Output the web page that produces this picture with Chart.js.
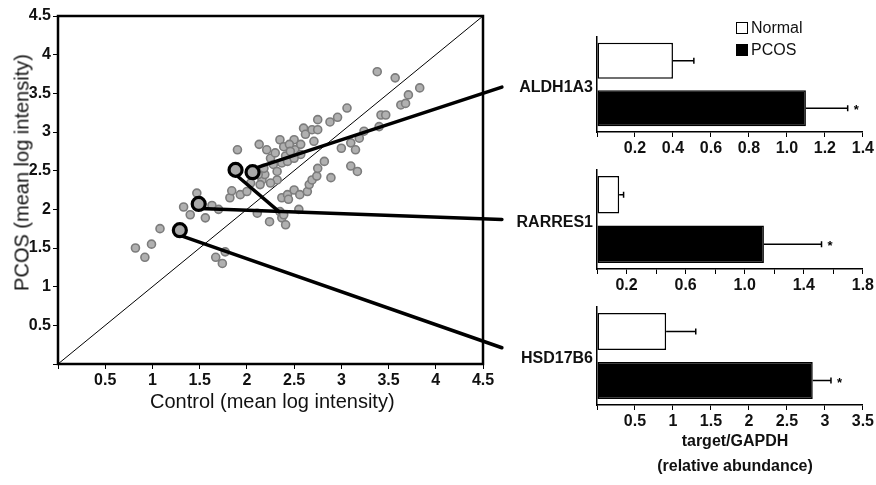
<!DOCTYPE html>
<html lang="en">
<head>
<meta charset="UTF-8" />
<title>PCOS vs Control expression</title>
<script src="https://cdn.jsdelivr.net/npm/chart.js"></script>
<style>
  body { margin: 0; background: #fff; font-family: Arial, "Liberation Sans", sans-serif; }
  #wrap { position: relative; width: 876px; height: 485px; overflow: hidden; background: #fff; }
  canvas { position: absolute; }
  .gene { position: absolute; width: 100px; text-align: right; font-weight: bold; font-size: 16px; color: #111; line-height: 18px; }
  .title { position: absolute; font-size: 20px; color: #111; white-space: nowrap; }
  .legend { position: absolute; left: 736px; font-size: 16px; color: #111; line-height: 18px; }
  .legend span.box { display: inline-block; width: 10px; height: 10px; border: 1px solid #000; margin-right: 3px; vertical-align: -1px; }
  .note { position: absolute; left: 640px; width: 190px; text-align: center; font-weight: bold; font-size: 16px; color: #111; }
</style>
</head>
<body>
<div id="wrap">
  <canvas id="scatter" width="600" height="420" style="left:0;top:0"></canvas>
  <canvas id="bar0" width="316" height="165" style="left:560px;top:0"></canvas>
  <canvas id="bar1" width="316" height="140" style="left:560px;top:160px"></canvas>
  <canvas id="bar2" width="316" height="140" style="left:560px;top:300px"></canvas>

  <div class="title" style="left:150px;top:390px">Control (mean log intensity)</div>
  <div class="title" style="left:-108px;top:161px;width:260px;text-align:center;transform:rotate(-90deg)">PCOS (mean log intensity)</div>

  <div class="gene" style="left:493px;top:78px">ALDH1A3</div>
  <div class="gene" style="left:493px;top:213px">RARRES1</div>
  <div class="gene" style="left:493px;top:349px">HSD17B6</div>

  <div class="legend" style="top:19px"><span class="box" style="background:#fff"></span>Normal</div>
  <div class="legend" style="top:41px"><span class="box" style="background:#000"></span>PCOS</div>

  <div class="note" style="top:432px">target/GAPDH</div>
  <div class="note" style="top:457px">(relative abundance)</div>
</div>

<script>
  // scatter: mean log intensity of each probe
  const controlVals = [0.82, 0.92, 0.99, 1.08, 1.33, 1.40, 1.47, 1.56, 1.63, 1.70, 1.67, 1.74, 1.77, 1.82, 1.84,
    1.90, 1.93, 2.00, 2.04, 2.13, 2.11, 2.16, 2.19, 2.24, 2.25, 2.28, 2.32, 2.35, 2.37, 2.39, 2.41, 2.43,
    2.37, 2.35, 2.37, 2.41, 2.39, 2.43, 2.44, 2.50, 2.51, 2.50, 2.55, 2.56, 2.60, 2.62, 2.64, 2.66, 2.69,
    2.71, 2.69, 2.74, 2.75, 2.75, 2.75, 2.82, 2.89, 2.88, 2.96, 3.00, 3.06, 3.10, 3.10, 3.15, 3.17, 3.19,
    3.24, 3.38, 3.40, 3.42, 3.47, 3.57, 3.63, 3.68, 3.71, 3.83, 2.21, 2.30, 2.45, 2.57, 2.32, 2.25, 2.14,
    2.18, 2.12, 2.46, 2.50, 2.57];
  const pcosVals = [1.50, 1.38, 1.55, 1.75, 2.03, 1.93, 2.21, 1.89, 2.05, 2.00, 1.38, 1.30, 1.45, 2.15, 2.24,
    2.77, 2.19, 2.23, 2.34, 2.84, 1.95, 2.38, 2.45, 1.84, 2.66, 2.58, 2.49, 2.90, 2.60, 2.81, 2.69, 2.62,
    2.15, 1.97, 1.89, 1.80, 1.93, 2.19, 2.13, 2.90, 2.77, 2.25, 2.00, 2.19, 3.05, 2.97, 2.23, 2.32, 3.03,
    2.88, 2.38, 2.43, 3.16, 3.03, 2.53, 2.62, 2.41, 3.13, 3.19, 2.79, 3.31, 2.56, 2.86, 2.77, 2.49, 2.92,
    3.01, 3.78, 3.07, 3.22, 3.22, 3.70, 3.35, 3.37, 3.48, 3.57, 2.77, 2.73, 2.84, 2.71, 2.38, 2.34, 2.32,
    2.53, 2.45, 2.75, 2.66, 2.84];

  // highlighted probes
  const hiControl = [1.88, 2.06, 1.49, 1.29];
  const hiPcos = [2.51, 2.48, 2.07, 1.73];

  // connector lines from the highlighted probes to the gene labels (data units)
  const linkAldhX = [2.08, 4.70], linkAldhY = [2.53, 3.58];
  const linkRarX = [1.88, 2.34], linkRarY = [2.45, 1.97];
  const linkRar2X = [1.50, 4.70], linkRar2Y = [2.01, 1.87];
  const linkHsdX = [1.30, 4.70], linkHsdY = [1.66, 0.21];
  const diagonal = [0, 4.5];

  // qPCR validation
  const genes = ['ALDH1A3', 'RARRES1', 'HSD17B6'];
  const groups = ['Normal', 'PCOS'];
  const normalMean = [0.40, 0.15, 0.91];
  const normalErr = [0.11, 0.03, 0.39];
  const pcosMean = [1.10, 1.13, 2.84];
  const pcosErr = [0.22, 0.39, 0.24];
  const axisMax = [1.4, 1.8, 3.5];
  const axisStep = [0.2, 0.2, 0.5];

  const tickFont = { family: 'Arial, "Liberation Sans", sans-serif', size: 16, weight: 'bold' };
  const pts = (xs, ys) => xs.map((x, i) => ({ x: x, y: ys[i] }));

  const boxPlugin = {
    id: 'box',
    afterDraw(chart) {
      const a = chart.chartArea, ctx = chart.ctx;
      ctx.save();
      ctx.strokeStyle = '#000';
      ctx.lineWidth = 2.5;
      ctx.strokeRect(a.left, a.top, a.right - a.left, a.bottom - a.top);
      ctx.restore();
    }
  };

  const linkStyle = { showLine: true, pointRadius: 0, borderColor: '#000', backgroundColor: '#000', borderWidth: 3.5, borderCapStyle: 'round', clip: false };

  new Chart(document.getElementById('scatter'), {
    type: 'scatter',
    data: {
      datasets: [
        { data: pts(hiControl, hiPcos), pointRadius: 6.5, backgroundColor: '#a9a9a9', borderColor: '#000', borderWidth: 3.2, clip: false },
        Object.assign({ data: pts(linkAldhX, linkAldhY) }, linkStyle),
        Object.assign({ data: pts(linkRarX, linkRarY) }, linkStyle),
        Object.assign({ data: pts(linkRar2X, linkRar2Y) }, linkStyle),
        Object.assign({ data: pts(linkHsdX, linkHsdY) }, linkStyle),
        { data: pts(controlVals, pcosVals), pointRadius: 4, backgroundColor: '#b0b0b0', borderColor: '#7c7c7c', borderWidth: 1.6 },
        { data: pts(diagonal, diagonal), showLine: true, pointRadius: 0, borderColor: '#000', borderWidth: 1 }
      ]
    },
    options: {
      responsive: false,
      animation: false,
      layout: { padding: { top: 16, right: 117, left: 0, bottom: 0 } },
      plugins: { legend: { display: false }, tooltip: { enabled: false } },
      scales: {
        x: {
          type: 'linear', min: 0, max: 4.5,
          afterFit: s => { s.height = 56; },
          border: { display: false },
          grid: { drawOnChartArea: false, drawTicks: true, tickLength: 5, color: '#000' },
          ticks: { stepSize: 0.5, color: '#111', font: tickFont, padding: 2, maxRotation: 0,
            callback: v => v === 0 ? '' : v }
        },
        y: {
          type: 'linear', min: 0, max: 4.5,
          afterFit: s => { s.width = 58; },
          border: { display: false },
          grid: { drawOnChartArea: false, drawTicks: true, tickLength: 5, color: '#000' },
          ticks: { stepSize: 0.5, color: '#111', font: tickFont, padding: 2,
            callback: v => v === 0 ? '' : v }
        }
      }
    },
    plugins: [boxPlugin]
  });

  const errorBars = {
    id: 'errorBars',
    afterDatasetsDraw(chart, args, opts) {
      const ctx = chart.ctx, xs = chart.scales.x;
      const meta = chart.getDatasetMeta(0);
      const vals = chart.data.datasets[0].data;
      ctx.save();
      ctx.strokeStyle = '#000';
      ctx.fillStyle = '#000';
      ctx.lineWidth = 1.5;
      meta.data.forEach((bar, i) => {
        const x0 = xs.getPixelForValue(vals[i]);
        const x1 = xs.getPixelForValue(vals[i] + opts.errors[i]);
        ctx.beginPath();
        ctx.moveTo(x0, bar.y); ctx.lineTo(x1, bar.y);
        ctx.moveTo(x1, bar.y - 3); ctx.lineTo(x1, bar.y + 3);
        ctx.stroke();
        if (i === 1) {
          ctx.font = 'bold 13px Arial';
          ctx.fillText('*', x1 + 6, bar.y + 6);
        }
      });
      ctx.restore();
    }
  };

  const barSetup = [
    { top: 37, axisH: 33, fmt: v => v.toFixed(1), skip: false },
    { top: 10, axisH: 31, fmt: v => v.toFixed(1), skip: true },
    { top: 7, axisH: 35, fmt: v => String(v), skip: false }
  ];

  genes.forEach((g, k) => {
    const st = barSetup[k];
    new Chart(document.getElementById('bar' + k), {
      type: 'bar',
      data: {
        labels: groups,
        datasets: [{
          data: [normalMean[k], pcosMean[k]],
          backgroundColor: ['#fff', '#000'],
          borderColor: '#000',
          borderWidth: 1.5,
          borderSkipped: false,
          barPercentage: 0.76,
          categoryPercentage: 1
        }]
      },
      options: {
        indexAxis: 'y',
        responsive: false,
        animation: false,
        layout: { padding: { top: st.top, left: 37, right: 13, bottom: 0 } },
        plugins: {
          legend: { display: false }, tooltip: { enabled: false },
          errorBars: { errors: [normalErr[k], pcosErr[k]] }
        },
        scales: {
          y: {
            afterFit: s => { s.width = 0; },
            ticks: { display: false },
            grid: { display: false },
            border: { display: true, color: '#000', width: 1.5 }
          },
          x: {
            min: 0, max: axisMax[k],
            afterFit: s => { s.height = st.axisH; },
            border: { display: true, color: '#000', width: 1.5 },
            grid: { drawOnChartArea: false, drawTicks: true, tickLength: 5, color: '#000' },
            ticks: {
              stepSize: axisStep[k], color: '#111', font: tickFont, padding: 2, maxRotation: 0,
              callback: v => {
                if (v === 0) return '';
                if (st.skip && Math.round(v / axisStep[k]) % 2 === 0) return '';
                return st.fmt(v);
              }
            }
          }
        }
      },
      plugins: [errorBars]
    });
  });
</script>
</body>
</html>
